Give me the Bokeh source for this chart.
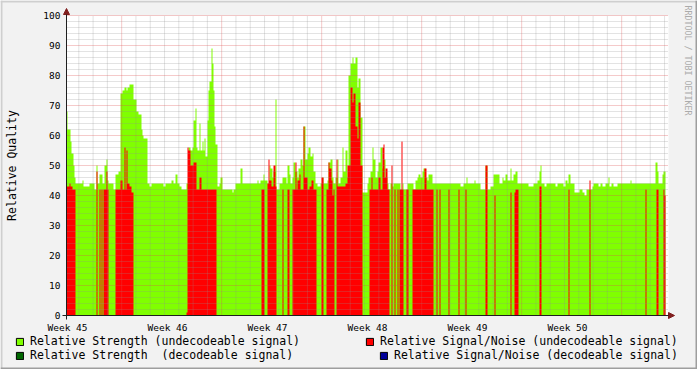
import numpy as np
from bokeh.plotting import figure
from bokeh.models import (Range1d, Legend, LegendItem, Label, Arrow, NormalHead,
                          BoxAnnotation)
from bokeh.core.properties import value
from bokeh.embed import file_html
from bokeh.resources import INLINE

# ---------------- data (hours since chart start) ----------------
STEP_H = 1.68          # resolution of the consolidated data rows (hours)
T_END = 1008.0         # six weeks shown
V_MAX = 100            # value axis maximum

# Relative Strength (undecodeable signal): step series, each run lasts until the next start
strength_start_h = [
    0, 2.2, 6.7, 8.9, 11.3, 13.4, 15.1, 26.9, 29.1, 39.1,
    47.5, 50.4, 52.6, 55.4, 60.5, 63.3, 66.7, 68.4, 71.1, 79.5,
    82.3, 87.9, 90.7, 94.6, 97.4, 100.3, 103.0, 105.8, 112.1, 113.1,
    117.6, 120.5, 125.5, 128.2, 129.9, 136.6, 139.4, 142.8, 163.5, 166.8,
    175.9, 179.3, 182.6, 186.0, 189.3, 192.7, 201.6, 204.5, 208.3, 211.2,
    213.9, 216.2, 218.4, 220.6, 222.9, 225.1, 228.0, 229.7, 231.8, 234.0,
    236.4, 238.6, 240.7, 243.1, 244.8, 246.5, 248.6, 250.8, 253.2, 256.5,
    258.7, 262.1, 278.4, 281.1, 284.4, 292.3, 295.2, 320.4, 322.6, 325.9,
    330.5, 332.6, 337.2, 340.5, 342.7, 346.1, 348.3, 350.6, 352.8, 358.3,
    362.9, 369.6, 371.8, 374.1, 376.3, 379.7, 381.9, 385.2, 387.6, 390.3,
    393.1, 396.0, 398.7, 401.5, 404.4, 407.1, 409.9, 412.8, 415.5, 418.3,
    421.2, 426.7, 429.6, 432.3, 438.0, 440.7, 443.5, 446.4, 449.1, 451.9,
    454.8, 457.5, 460.3, 463.2, 465.9, 468.7, 471.6, 474.3, 477.1, 480.0,
    482.7, 485.5, 488.4, 491.1, 493.9, 496.8, 505.2, 507.9, 510.7, 513.6,
    516.3, 519.1, 522.0, 524.7, 527.5, 530.4, 533.1, 535.9, 538.8, 541.5,
    544.3, 547.2, 549.9, 561.1, 564.0, 566.7, 572.4, 583.5, 586.3, 589.2,
    591.9, 594.7, 597.6, 600.3, 603.1, 606.0, 608.7, 614.4, 661.9, 667.5,
    672.0, 674.2, 685.4, 687.6, 695.5, 703.9, 706.8, 712.3, 717.9, 727.9,
    732.0, 734.7, 737.5, 740.4, 745.9, 748.1, 751.5, 754.3, 758.2, 776.2,
    785.1, 790.8, 794.1, 796.3, 798.5, 803.0, 806.4, 821.5, 824.4, 835.5,
    838.3, 841.2, 843.9, 846.7, 853.4, 862.3, 866.4, 870.2, 873.6, 883.2,
    885.9, 894.3, 897.1, 900.0, 905.5, 911.1, 912.7, 915.1, 919.5, 925.2,
    947.5, 949.2, 989.5, 992.4, 995.1, 1000.8, 1002.5,
]
strength = [
    68, 62, 58, 54, 50, 46, 44, 45, 43, 44,
    42, 50, 44, 47, 44, 50, 52, 45, 44, 42,
    47, 48, 74, 75, 76, 75, 76, 77, 75, 72,
    68, 67, 62, 60, 59, 44, 43, 44, 43, 44,
    45, 44, 47, 44, 43, 42, 44, 56, 55, 56,
    65, 69, 56, 55, 64, 55, 58, 55, 59, 53,
    65, 75, 78, 89, 84, 75, 63, 57, 43, 44,
    46, 42, 41, 42, 44, 49, 44, 45, 44, 45,
    47, 45, 44, 50, 49, 46, 48, 72, 42, 44,
    46, 44, 50, 47, 44, 46, 51, 48, 46, 49,
    52, 50, 63, 52, 54, 56, 53, 54, 48, 44,
    43, 44, 46, 44, 45, 51, 52, 46, 44, 46,
    52, 44, 46, 56, 48, 55, 46, 80, 84, 86,
    84, 86, 76, 79, 66, 41, 44, 46, 48, 56,
    52, 46, 48, 51, 56, 49, 52, 46, 44, 42,
    44, 43, 44, 42, 44, 42, 44, 42, 45, 46,
    47, 46, 48, 49, 46, 45, 47, 44, 43, 44,
    46, 44, 45, 44, 42, 50, 42, 43, 47, 44,
    46, 45, 47, 45, 49, 45, 47, 48, 44, 43,
    44, 45, 48, 50, 44, 43, 44, 43, 44, 43,
    45, 44, 47, 44, 41, 42, 41, 40, 42, 43,
    44, 43, 44, 43, 44, 46, 43, 44, 43, 44,
    45, 44, 51, 48, 44, 47, 48,
]
strength_end_h = 1006.0

# Relative Signal/Noise (undecodeable signal): segments
snr_start_h = [
    0, 4.5, 6.7, 10.1, 50.4, 54.9, 58.8, 62.7, 66.7, 68.4,
    82.3, 90.7, 94.6, 97.4, 99.6, 100.8, 103.0, 105.8, 109.2, 201.6,
    203.3, 205.5, 207.8, 213.9, 217.9, 223.4, 226.8, 326.8, 337.2, 339.4,
    341.6, 343.9, 348.3, 350.6, 362.9, 370.7, 379.7, 384.2, 386.4, 388.6,
    391.0, 393.1, 397.6, 399.8, 404.4, 408.7, 412.1, 415.5, 428.9, 436.8,
    440.2, 442.4, 444.7, 446.4, 449.1, 453.6, 455.8, 468.7, 472.6, 477.1,
    480.0, 482.7, 485.5, 488.4, 491.1, 493.9, 509.0, 512.4, 514.6, 524.7,
    527.5, 530.4, 532.1, 534.2, 535.9, 538.8, 546.0, 551.0, 555.6, 559.9,
    562.3, 564.5, 571.2, 581.3, 601.4, 604.8, 621.6, 626.1, 641.3, 658.1,
    670.3, 703.9, 719.0, 745.9, 752.6, 754.8, 794.6, 843.4, 878.6, 972.7,
    991.2, 1002.5, 1004.2,
]
snr_end_h = [
    4.5, 6.7, 10.1, 15.1, 52.6, 57.1, 60.5, 66.7, 68.4, 70.1,
    90.7, 94.6, 97.4, 99.6, 100.8, 103.0, 105.8, 109.2, 112.1, 203.3,
    205.5, 207.8, 213.9, 217.9, 223.4, 226.8, 251.5, 332.6, 339.4, 341.6,
    343.9, 348.3, 350.6, 352.8, 365.1, 374.1, 384.2, 386.4, 388.6, 391.0,
    393.1, 397.6, 399.8, 404.4, 408.7, 412.1, 415.5, 420.0, 431.2, 440.2,
    442.4, 444.7, 446.4, 449.1, 450.2, 455.8, 468.7, 472.6, 477.1, 480.0,
    482.7, 485.5, 488.4, 491.1, 493.9, 496.8, 512.4, 514.6, 524.7, 527.5,
    530.4, 532.1, 534.2, 535.9, 538.8, 543.1, 547.7, 553.2, 557.8, 562.3,
    564.5, 566.7, 574.6, 601.4, 604.8, 617.1, 623.3, 628.3, 643.5, 660.2,
    672.5, 707.3, 720.7, 747.6, 754.8, 759.4, 798.0, 845.0, 880.3, 974.4,
    994.6, 1004.2, 1005.8,
]
snr = [
    43, 44, 43, 42, 48, 42, 42, 42, 48, 42,
    42, 45, 42, 56, 42, 55, 44, 43, 41, 1,
    56, 55, 50, 51, 42, 46, 42, 42, 44, 52,
    45, 43, 50, 43, 42, 42, 42, 51, 42, 45,
    47, 42, 63, 46, 42, 43, 45, 42, 46, 42,
    51, 49, 45, 40, 42, 52, 43, 44, 50, 76,
    71, 74, 63, 59, 71, 50, 42, 46, 42, 46,
    42, 56, 57, 46, 49, 42, 50, 42, 42, 42,
    58, 42, 42, 42, 49, 42, 42, 42, 42, 42,
    42, 50, 40, 41, 41, 42, 43, 42, 45, 42,
    42, 42, 40,
]

week_tick_h = [1.7, 169.7, 337.7, 505.7, 673.7, 841.7]
week_labels = ["Week 45", "Week 46", "Week 47", "Week 48", "Week 49", "Week 50"]
grid_major_h = [92.7, 260.7, 428.7, 596.7, 764.7, 932.7]
grid_day_first_h = 20.7
quality_ticks = [0, 10, 20, 30, 40, 50, 60, 70, 80, 90, 100]

series_labels = [
    "Relative Strength (undecodeable signal)",
    "Relative Signal/Noise (undecodeable signal)",
    "Relative Strength  (decodeable signal)",
    "Relative Signal/Noise (decodeable signal)",
]

# ---------------- style / layout ----------------
FONT = "DejaVu Sans Mono"
C_BACK = "#F2F2F2"
C_GREEN = "#80FF00"
C_RED = "#FF0000"
C_DGREEN = "#006600"
C_BLUE = "#000099"
C_AXIS = "#1F1F1F"
C_ARROW = "#801F1F"
C_GRID = "#8F8F8F"
C_MGRID = "#DE4F4F"

W, H = 697, 369
ORIGIN_X_PX, ORIGIN_Y_PX = 66, 315   # canvas pixel where the axes cross
PX_PER_UNIT = 3.0                    # value axis: 3 px per unit

p = figure(width=W, height=H, output_backend="svg", toolbar_location=None,
           title=None, tools="", x_axis_location=None, y_axis_location=None,
           x_range=Range1d(-ORIGIN_X_PX * STEP_H, (W - ORIGIN_X_PX) * STEP_H),
           y_range=Range1d(-(H - ORIGIN_Y_PX) / PX_PER_UNIT, ORIGIN_Y_PX / PX_PER_UNIT),
           min_border=0)
p.background_fill_color = C_BACK
p.border_fill_color = C_BACK
p.outline_line_color = None
p.grid.visible = False

def snap(t):
    return float(np.round(t / STEP_H) * STEP_H)

# white graph canvas
p.quad(left=[0], right=[T_END + 2 * STEP_H], bottom=[0], top=[V_MAX],
       fill_color="white", line_color=None)

# green step area
gx, gy = [], []
ends = list(strength_start_h[1:]) + [strength_end_h]
for s, e, v in zip(strength_start_h, ends, strength):
    gx.extend([snap(s), snap(e)])
    gy.extend([v, v])
p.varea(x=gx, y1=[0] * len(gx), y2=gy, fill_color=C_GREEN, fill_alpha=1.0)

# red step area
rx, ry = [], []
prev_e = None
for s, e, v in zip(snr_start_h, snr_end_h, snr):
    s, e = snap(s), snap(e)
    if prev_e is None or abs(s - prev_e) > 1e-6:
        if prev_e is not None:
            rx.append(prev_e)
            ry.append(0)
        rx.append(s)
        ry.append(0)
    rx.extend([s, e])
    ry.extend([v, v])
    prev_e = e
rx.append(prev_e)
ry.append(0)
p.varea(x=rx, y1=[0] * len(rx), y2=ry, fill_color=C_RED, fill_alpha=1.0)

# grid (drawn over the data, as rrdtool does)
grid_x_end = T_END + 2 * STEP_H
minor_y = [v for v in range(2, V_MAX, 2) if v % 10]
major_y = [v for v in quality_ticks if v > 0]
minor_x = [h for h in np.arange(grid_day_first_h, T_END, 24.0)
           if min(abs(h - g) for g in grid_major_h) > 1]
p.segment(x0=[0] * len(minor_y), y0=minor_y, x1=[grid_x_end] * len(minor_y), y1=minor_y,
          line_color=C_GRID, line_alpha=0.5, line_dash="1 1", line_width=1)
p.segment(x0=list(minor_x), y0=[0] * len(minor_x), x1=list(minor_x), y1=[V_MAX] * len(minor_x),
          line_color=C_GRID, line_alpha=0.5, line_dash="1 1", line_width=1)
p.segment(x0=[0] * len(major_y), y0=major_y, x1=[grid_x_end] * len(major_y), y1=major_y,
          line_color=C_MGRID, line_alpha=0.6, line_dash="1 1", line_width=1)
p.segment(x0=grid_major_h, y0=[0] * len(grid_major_h), x1=grid_major_h,
          y1=[V_MAX] * len(grid_major_h),
          line_color=C_MGRID, line_alpha=0.6, line_dash="1 1", line_width=1)

# legend swatch renderers (a single empty-area box each, only shown in the legend)
legend_renderers = []
for col in (C_GREEN, C_RED, C_DGREEN, C_BLUE):
    legend_renderers.append(
        p.quad(left=[0], right=[0], top=[0], bottom=[0], fill_color=col,
               line_color="black", line_width=1, line_alpha=1.0))

# axis lines with arrow heads
p.add_layout(Arrow(end=NormalHead(size=6, fill_color=C_ARROW, line_color=C_ARROW, line_width=1),
                   x_start=-4 * STEP_H, y_start=0, x_end=T_END + 8 * STEP_H, y_end=0,
                   line_color=C_AXIS, line_width=1))
p.add_layout(Arrow(end=NormalHead(size=6, fill_color=C_ARROW, line_color=C_ARROW, line_width=1),
                   x_start=0, y_start=-4 / PX_PER_UNIT, x_end=0, y_end=V_MAX + 7 / PX_PER_UNIT,
                   line_color=C_AXIS, line_width=1))

# tick labels
p.text(x=[0] * len(quality_ticks), y=quality_ticks, text=[str(v) for v in quality_ticks],
       x_offset=-6, text_align="right", text_baseline="middle",
       text_font=value(FONT), text_font_size="9.5px", text_color="black")
p.text(x=week_tick_h, y=[0] * len(week_tick_h), text=week_labels,
       y_offset=12, text_align="center", text_baseline="alphabetic",
       text_font=value(FONT), text_font_size="9.5px", text_color="black")
# axis title
p.text(x=[0], y=[V_MAX / 2], text=["Relative Quality"], x_offset=-55, angle=np.pi / 2,
       text_align="center", text_baseline="middle",
       text_font=value(FONT), text_font_size="11.5px", text_color="black")

# legends
legend_locs = [(15, 21), (365, 21), (15, 7), (379, 7)]
for lab, r, loc in zip(series_labels, legend_renderers, legend_locs):
    leg = Legend(items=[LegendItem(label=lab, renderers=[r])], location=loc,
                 padding=0, margin=0, spacing=0, glyph_width=9, glyph_height=9,
                 label_standoff=6, label_text_font=FONT, label_text_font_size="11.5px",
                 label_text_color="black", background_fill_alpha=0,
                 border_line_color=None)
    p.add_layout(leg)

# watermark
p.add_layout(Label(x=687, y=H - 5, x_units="screen", y_units="screen",
                   text="RRDTOOL / TOBI OETIKER", angle=-np.pi / 2,
                   text_font=FONT, text_font_size="8.3px", text_color="#ABABAB",
                   text_align="left", text_baseline="middle"))

# 3-D frame shading of the canvas
for l, r_, b, t, c in [(0, 2, 0, H, "#CFCFCF"), (0, W, H - 2, H, "#CFCFCF"),
                       (W - 2, W, 0, H, "#9E9E9E"), (0, W, 0, 2, "#9E9E9E")]:
    p.add_layout(BoxAnnotation(left=l, right=r_, bottom=b, top=t,
                               left_units="screen", right_units="screen",
                               bottom_units="screen", top_units="screen",
                               fill_color=c, fill_alpha=1.0, line_color=None))

open("out.html", "w").write(file_html(p, INLINE))
